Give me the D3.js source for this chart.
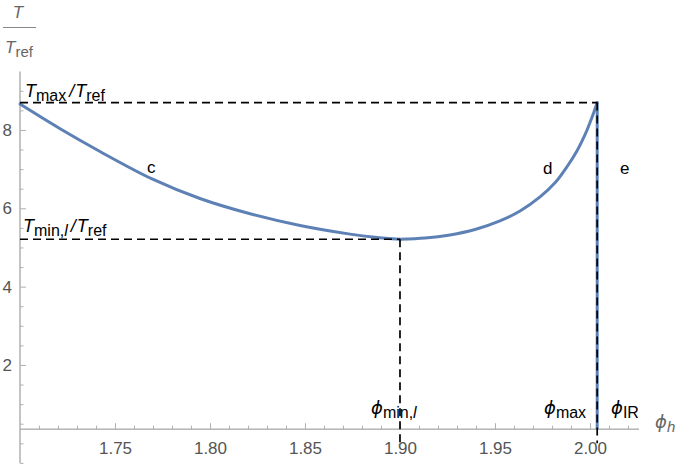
<!DOCTYPE html>
<html><head><meta charset="utf-8">
<script src="https://cdn.jsdelivr.net/npm/d3@7"></script>
<style>body{margin:0;background:#fff}svg{display:block}text{font-family:"Liberation Sans",Arial,sans-serif}</style>
</head><body><svg id="c" width="681" height="466"></svg>
<script>
// Branch c (decreasing) and d (increasing) of T/Tref vs phi_h
const phiC = [1.700, 1.7211, 1.7421, 1.7695, 1.7947, 1.8211, 1.8474, 1.8737, 1.8868, 1.900];
const tC   = [8.66, 8.03, 7.45, 6.75, 6.25, 5.86, 5.56, 5.34, 5.26, 5.21];
const phiD = [1.900, 1.9132, 1.9263, 1.9395, 1.9526, 1.9632, 1.9737, 1.9816, 1.9879, 1.9932, 1.9974, 2.0000, 2.0021, 2.0038];
const tD   = [5.21, 5.24, 5.32, 5.46, 5.68, 5.93, 6.29, 6.65, 7.06, 7.47, 7.88, 8.19, 8.46, 8.70];
// Branch e: vertical line at phi_max
const phiE = [2.0038, 2.0038];
const tE   = [8.70, 0.36];
const phiMinL = 1.900, tMinL = 5.21, phiMax = 2.0038, tMax = 8.70;
const xTicks = [1.75, 1.80, 1.85, 1.90, 1.95, 2.00];
const xTickLabels = ["1.75", "1.80", "1.85", "1.90", "1.95", "2.00"];
const yTicks = [2, 4, 6, 8];
const yTickLabels = ["2", "4", "6", "8"];
const xDomain = [1.70, 2.0258], yDomain = [-0.5, 9.49], xAxisAt = 0.36;

const svg = d3.select("#c");
const x = d3.scaleLinear().domain(xDomain).range([20, 639]);
const y = d3.scaleLinear().domain([0, 9.5]).range([443.3, 71.2]);
const axisCol = "#b0b0b0", labCol = "#555";

// minor ticks
const xMinor = d3.range(171, 203).map(d => d / 100).filter(v => !xTicks.some(t => Math.abs(t - v) < 1e-9));
const yMinor = d3.range(-1, 19).map(d => d / 2).filter(v => !yTicks.includes(v));

// X axis
const gx = svg.append("g").attr("transform", `translate(0,${y(xAxisAt)})`);
gx.call(d3.axisBottom(x).tickValues(xTicks).tickFormat((d, i) => xTickLabels[i]).tickSizeInner(-6).tickSizeOuter(0).tickPadding(13));
gx.append("g").call(d3.axisBottom(x).tickValues(xMinor).tickFormat("").tickSizeInner(-3.5).tickSizeOuter(0));
gx.selectAll(".domain").attr("stroke", axisCol).attr("d", `M${x(xDomain[0])},0H${x(xDomain[1])}`);
gx.selectAll("line").attr("stroke", axisCol);
gx.selectAll("text").attr("fill", labCol).attr("font-size", 17);

// Y axis
const gy = svg.append("g").attr("transform", `translate(${x(xDomain[0])},0)`);
gy.call(d3.axisLeft(y).tickValues(yTicks).tickFormat((d, i) => yTickLabels[i]).tickSizeInner(-6).tickSizeOuter(0).tickPadding(8));
gy.append("g").call(d3.axisLeft(y).tickValues(yMinor).tickFormat("").tickSizeInner(-3.5).tickSizeOuter(0));
gy.selectAll(".domain").attr("stroke", axisCol).attr("d", `M0,${y(yDomain[0])}V${y(yDomain[1])}`);
gy.selectAll("line").attr("stroke", axisCol);
gy.selectAll("text").attr("fill", labCol).attr("font-size", 17);

// curve
const line = d3.line().x(d => x(d[0])).y(d => y(d[1])).curve(d3.curveCatmullRom.alpha(0.5));
const blue = "#5E81B5";
svg.append("path").datum(phiC.map((p, i) => [p, tC[i]])).attr("d", line)
  .attr("fill", "none").attr("stroke", blue).attr("stroke-width", 3).attr("stroke-linecap", "round");
svg.append("path").datum(phiD.map((p, i) => [p, tD[i]])).attr("d", line)
  .attr("fill", "none").attr("stroke", blue).attr("stroke-width", 3).attr("stroke-linecap", "round");
svg.append("path").datum(phiE.map((p, i) => [p, tE[i]])).attr("d", d3.line().x(d => x(d[0])).y(d => y(d[1])))
  .attr("fill", "none").attr("stroke", blue).attr("stroke-width", 3);

// dashed guides
const dash = (x1, y1, x2, y2) => svg.append("line").attr("x1", x(x1)).attr("y1", y(y1)).attr("x2", x(x2)).attr("y2", y(y2))
  .attr("stroke", "#000").attr("stroke-width", 1.7).attr("stroke-dasharray", "8,5");
dash(xDomain[0], tMax, phiMax, tMax);
dash(xDomain[0], tMinL, phiMinL, tMinL);
dash(phiMinL, tMinL, phiMinL, 0);
dash(phiMax, tMax, phiMax, 0);

// rich text helper
function rich(xp, yp, parts, opts = {}) {
  const t = svg.append("text").attr("x", xp).attr("y", yp).attr("fill", opts.fill || "#000").attr("font-size", opts.size || 18);
  let sub = false;
  parts.forEach(p => {
    const ts = t.append("tspan").text(p.t);
    if (p.i) ts.attr("font-style", "italic");
    if (p.s && !sub) { ts.attr("dy", 4); sub = true; }
    else if (!p.s && sub) { ts.attr("dy", -4); sub = false; }
    if (p.s) ts.attr("font-size", opts.sub || 16);
    if (p.dx) ts.attr("dx", p.dx);
    if (p.f) ts.attr("font-family", p.f);
  });
  return t;
}
const phiChar = "\u03D5";
rich(25, 97, [{t: "T", i: 1}, {t: "max", s: 1}, {t: "/", i: 1, dx: 3}, {t: "T", i: 1, dx: 1}, {t: "ref", s: 1}]);
rich(23, 232, [{t: "T", i: 1}, {t: "min,", s: 1}, {t: "l", s: 1, i: 1}, {t: "/", i: 1, dx: 3}, {t: "T", i: 1, dx: 1}, {t: "ref", s: 1}]);
rich(147, 173, [{t: "c"}], {size: 17});
rich(543, 174, [{t: "d"}], {size: 17});
rich(620, 174, [{t: "e"}], {size: 17});
rich(371, 414, [{t: phiChar, i: 1, f: "DejaVu Sans"}, {t: "min,", s: 1}, {t: "l", s: 1, i: 1}], {size: 18, sub: 16});
rich(544, 414, [{t: phiChar, i: 1, f: "DejaVu Sans"}, {t: "max", s: 1}], {size: 18, sub: 16});
rich(611, 414, [{t: phiChar, i: 1, f: "DejaVu Sans"}, {t: "IR", s: 1}], {size: 18, sub: 16});
rich(655, 428, [{t: phiChar, i: 1, f: "DejaVu Sans"}, {t: "h", s: 1, i: 1}], {fill: "#666", size: 18, sub: 15});

// y axis label T / Tref
svg.append("text").attr("x", 18).attr("y", 18).attr("text-anchor", "middle").attr("fill", "#666")
  .attr("font-size", 17).attr("font-style", "italic").text("T");
svg.append("line").attr("x1", 3).attr("x2", 36).attr("y1", 27.5).attr("y2", 27.5).attr("stroke", "#888").attr("stroke-width", 1);
rich(5, 53, [{t: "T", i: 1}, {t: "ref", s: 1}], {fill: "#666", size: 17, sub: 15});
</script></body></html>
